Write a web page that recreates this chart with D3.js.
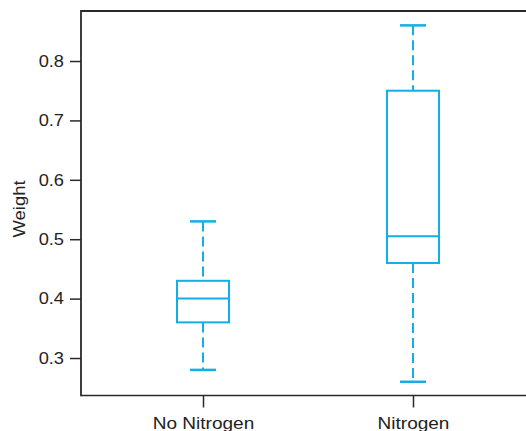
<!DOCTYPE html>
<html>
<head>
<meta charset="utf-8">
<script src="https://cdn.jsdelivr.net/npm/d3@7"></script>
<style>
  html, body { margin: 0; padding: 0; background: #fff; overflow: hidden; width: 526px; height: 431px; }
  svg { display: block; overflow: hidden; }
  text { font-family: "Liberation Sans", Arial, sans-serif; fill: #222; }
</style>
</head>
<body>
<script>
// ---- data ----
const categories = ["No Nitrogen", "Nitrogen"];
const whiskerLow = [0.28, 0.26];
const q1 = [0.36, 0.46];
const median = [0.40, 0.505];
const q3 = [0.43, 0.75];
const whiskerHigh = [0.53, 0.86];
const yTicks = [0.3, 0.4, 0.5, 0.6, 0.7, 0.8];
const yLabel = "Weight";

const W = 526, H = 431;
const pLeft = 81, pTop = 11, pBottom = 395.5, pRight = 535;
const blue = "#12aee8";
const sx = 1.12; // horizontal text stretch

const svg = d3.select("body").append("svg").attr("width", W).attr("height", H);

const y = d3.scaleLinear().domain([0.2369, 0.8842]).range([pBottom, pTop]);
const x = d3.scalePoint().domain(categories).range([pLeft, pRight]).padding(0.581);

// frame: left, top, bottom (right side lies outside the picture)
svg.append("line").attr("x1", pLeft).attr("x2", pLeft).attr("y1", pTop - 0.9).attr("y2", pBottom + 0.75)
  .attr("stroke", "#2a2a2a").attr("stroke-width", 1.8);
svg.append("line").attr("x1", pLeft).attr("x2", W).attr("y1", pTop).attr("y2", pTop)
  .attr("stroke", "#2a2a2a").attr("stroke-width", 1.8);
svg.append("line").attr("x1", pLeft).attr("x2", W).attr("y1", pBottom).attr("y2", pBottom)
  .attr("stroke", "#2a2a2a").attr("stroke-width", 1.5);

// y axis
const ya = svg.append("g").attr("transform", `translate(${pLeft},0)`)
  .call(d3.axisLeft(y).tickValues(yTicks).tickFormat(d3.format(".1f")).tickSize(11).tickPadding(6));
ya.select(".domain").remove();
ya.selectAll(".tick line").attr("stroke", "#2a2a2a").attr("stroke-width", 1.5);
ya.selectAll(".tick text")
  .attr("font-size", 16.3).attr("fill", "#222")
  .attr("x", -17 / sx).attr("transform", `scale(${sx},1)`);

// x axis
const xa = svg.append("g").attr("transform", `translate(0,${pBottom})`)
  .call(d3.axisBottom(x).tickSize(12).tickPadding(9));
xa.select(".domain").remove();
xa.selectAll(".tick line").attr("stroke", "#2a2a2a").attr("stroke-width", 1.5);
xa.selectAll(".tick text")
  .attr("font-size", 17).attr("fill", "#222")
  .attr("transform", `scale(${sx},1)`);

// y label
svg.append("text")
  .attr("transform", `translate(25,209) rotate(-90) scale(${sx},1)`)
  .attr("text-anchor", "middle")
  .attr("font-size", 16.5)
  .text(yLabel);

// boxes
const boxW = 52, capW = 26;
const g = svg.append("g").attr("stroke", blue).attr("stroke-width", 2).attr("fill", "none");
categories.forEach((c, i) => {
  const cx = x(c);
  g.append("line").attr("x1", cx).attr("x2", cx).attr("y1", y(whiskerHigh[i])).attr("y2", y(q3[i]))
    .attr("stroke-dasharray", "10,5");
  g.append("line").attr("x1", cx).attr("x2", cx).attr("y1", y(q1[i])).attr("y2", y(whiskerLow[i]))
    .attr("stroke-dasharray", "10,5");
  g.append("line").attr("x1", cx - capW / 2).attr("x2", cx + capW / 2)
    .attr("y1", y(whiskerHigh[i])).attr("y2", y(whiskerHigh[i])).attr("stroke-width", 2.5);
  g.append("line").attr("x1", cx - capW / 2).attr("x2", cx + capW / 2)
    .attr("y1", y(whiskerLow[i])).attr("y2", y(whiskerLow[i])).attr("stroke-width", 2.5);
  g.append("rect").attr("x", cx - boxW / 2).attr("width", boxW)
    .attr("y", y(q3[i])).attr("height", y(q1[i]) - y(q3[i]));
  g.append("line").attr("x1", cx - boxW / 2).attr("x2", cx + boxW / 2)
    .attr("y1", y(median[i])).attr("y2", y(median[i]));
});
</script>
</body>
</html>
